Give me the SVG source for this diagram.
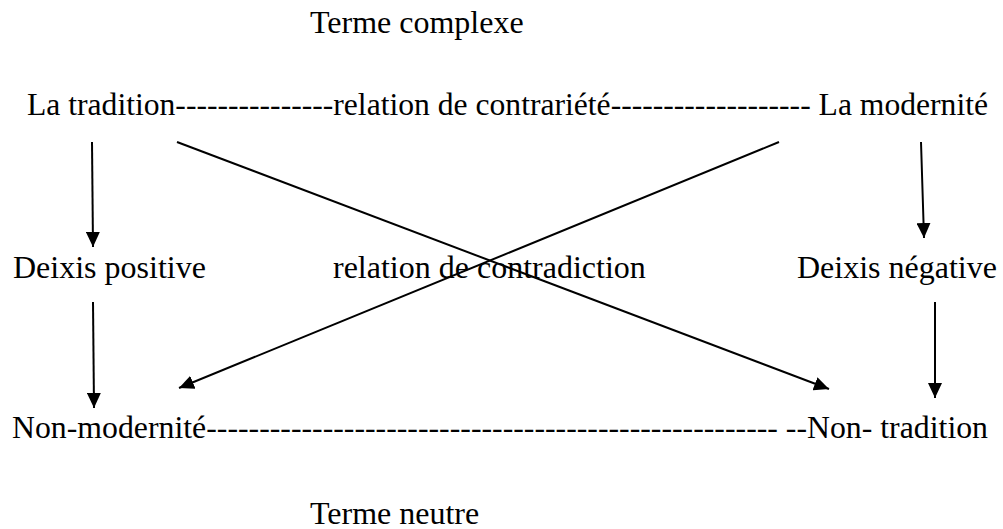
<svg xmlns="http://www.w3.org/2000/svg" width="1003" height="529" viewBox="0 0 1003 529">
<style>
text{font-family:"Liberation Serif","Times New Roman",serif;font-size:32px;fill:#000}
.c line{stroke:#000;stroke-width:2;fill:none}
</style>
<defs>
<marker id="ah" markerUnits="userSpaceOnUse" markerWidth="16" markerHeight="14" refX="15" refY="7" orient="auto">
<path d="M0,0 L15,7 L0,14 Z" fill="#000"/>
</marker>
</defs>
<rect width="1003" height="529" fill="#fff"/>
<g id="terme-complexe"><text x="310" y="33">Terme complexe</text></g>
<g id="row-top"><text x="27" y="115" textLength="961" lengthAdjust="spacingAndGlyphs">La tradition---------------relation de contrariété------------------- La modernité</text></g>
<g id="deixis-positive"><text x="13" y="278">Deixis positive</text></g>
<g id="relation-contradiction"><text x="333" y="278">relation de contradiction</text></g>
<g id="deixis-negative"><text x="797" y="278">Deixis négative</text></g>
<g id="row-bottom"><text x="12" y="438" textLength="976" lengthAdjust="spacingAndGlyphs">Non-modernité------------------------------------------------------ --Non- tradition</text></g>
<g id="terme-neutre"><text x="310" y="524">Terme neutre</text></g>
<g class="c" id="connectors">
<line x1="92" y1="142" x2="93" y2="247" marker-end="url(#ah)"/>
<line x1="921" y1="142" x2="924" y2="238" marker-end="url(#ah)"/>
<line x1="177" y1="142" x2="829" y2="389" marker-end="url(#ah)"/>
<line x1="779" y1="142" x2="179" y2="388" marker-end="url(#ah)"/>
<line x1="93" y1="302" x2="94" y2="408" marker-end="url(#ah)"/>
<line x1="935" y1="302" x2="935" y2="398" marker-end="url(#ah)"/>
</g>
</svg>
